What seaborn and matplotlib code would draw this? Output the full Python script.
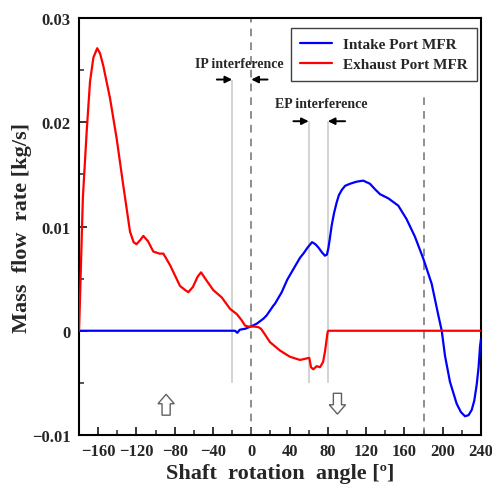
# Mass flow rate through intake / exhaust ports vs shaft angle
import matplotlib.pyplot as plt
import numpy as np
import seaborn as sns
import pandas as pd

# Intake port mass flow rate (blue)
intake_angle = [-180, -20, -17, -14.6, -12, -6, 0.4, 5.6, 12.6, 16, 23, 24.8, 31.8,
                37.6, 43.9, 50.9, 54.4, 59, 63.5, 67, 70, 74, 77, 79, 80.5, 82,
                84, 86.5, 89.2, 91.5, 94.5, 98, 103.1, 110, 117, 124, 129, 134.5,
                143.2, 153.6, 162.3, 171.1, 179.8, 188.5, 195.4, 199, 202.4, 207.6,
                214.6, 219, 223.3, 227, 230.3, 233, 235.5, 237.5, 239, 240]
intake_mfr = [0, 0, 0, -0.0002, 0.0001, 0.0002, 0.00045, 0.00067, 0.00115, 0.00147, 0.0024,
              0.0026, 0.0037, 0.0049, 0.0059, 0.0070, 0.0074, 0.0080, 0.0085, 0.0083,
              0.0080, 0.0075, 0.0072, 0.0073, 0.0079, 0.0088, 0.0101, 0.0113, 0.0123,
              0.0130, 0.0135, 0.0139, 0.0141, 0.0143, 0.0144, 0.0141, 0.0136, 0.0131,
              0.0127, 0.0120, 0.0107, 0.0090, 0.0069, 0.0045, 0.0015, 0.0, -0.0024, -0.0049,
              -0.0070, -0.0078, -0.0082, -0.0081, -0.0076, -0.0067, -0.0052, -0.0035,
              -0.0015, -0.0008]

# Exhaust port mass flow rate (red)
exhaust_angle = [-180, -179, -176, -172, -168.5, -165, -161, -158, -154.6, -147.6, -140.6,
                 -133.7, -126.7, -123, -120, -116, -112.8, -108, -102.4, -96, -91.9,
                 -84.9, -74.5, -69, -65.8, -61, -56, -52.5, -46.6, -39.7, -30.9, -22.2,
                 -15.2, -10, -6.6, -3, 3, 7.3, 10, 12.6, 19.6, 30, 40.5, 50.9, 60.6,
                 62.4, 64.8, 68.3, 71.8, 75, 77, 79.8, 80.5, 240]
exhaust_mfr = [0, 0.003, 0.0127, 0.0191, 0.0239, 0.0262, 0.0271, 0.0266, 0.0254, 0.0223, 0.0184,
               0.0139, 0.0095, 0.0085, 0.0083, 0.0087, 0.0091, 0.0086, 0.0076, 0.0074,
               0.0074, 0.0063, 0.0043, 0.0039, 0.0037, 0.0042, 0.0052, 0.0056, 0.0048,
               0.0039, 0.0032, 0.0021, 0.0016, 0.0010, 0.0005, 0.0004, 0.0004, 0.00035,
               0.0002, -0.00013, -0.0011, -0.0019, -0.0025, -0.0028, -0.0026, -0.0035,
               -0.0037, -0.0034, -0.0035, -0.0030, -0.0020, -0.0001, 0, 0]

x_ticks = [-160, -120, -80, -40, 0, 40, 80, 120, 160, 200, 240]
y_ticks = [-0.01, 0, 0.01, 0.02, 0.03]
y_tick_labels = ['\u22120.01', '0', '0.01', '0.02', '0.03']

df = pd.concat([
    pd.DataFrame({'angle': intake_angle, 'mfr': intake_mfr, 'port': 'Intake Port MFR'}),
    pd.DataFrame({'angle': exhaust_angle, 'mfr': exhaust_mfr, 'port': 'Exhaust Port MFR'}),
])

sns.set_style('ticks')
plt.rcParams['font.family'] = ['Liberation Serif', 'DejaVu Serif']
plt.rcParams['font.weight'] = 'bold'

fig = plt.figure(figsize=(4.92, 4.89), dpi=100)
ax = fig.add_axes([0.1606, 0.1084, 0.817, 0.8527])

# reference lines
ax.axvline(0, color='#707070', lw=1.1, ls=(0, (5, 4)), zorder=1)
ax.vlines(180, -0.01, 0.0228, color='#707070', lw=1.1, ls=(0, (5, 4)), zorder=1)
ax.vlines(-20, -0.005, 0.0241, color='#c8c8c8', lw=1.1, zorder=1)
ax.vlines([60, 80], -0.005, 0.0201, color='#c8c8c8', lw=1.1, zorder=1)

sns.lineplot(data=df, x='angle', y='mfr', hue='port', sort=False, estimator=None,
             palette={'Intake Port MFR': 'blue', 'Exhaust Port MFR': 'red'},
             lw=1.6, ax=ax, zorder=3)

# interference annotations
arrow = dict(arrowstyle='-|>', color='black', lw=1.4, mutation_scale=10, shrinkA=0, shrinkB=0)
ax.annotate('', xy=(-20, 0.0241), xytext=(-36, 0.0241), arrowprops=arrow)
ax.annotate('', xy=(0, 0.0241), xytext=(17, 0.0241), arrowprops=arrow)
ax.annotate('', xy=(60, 0.0201), xytext=(44, 0.0201), arrowprops=arrow)
ax.annotate('', xy=(80, 0.0201), xytext=(98, 0.0201), arrowprops=arrow)
ax.text(-12, 0.0256, 'IP interference', ha='center', va='center', fontsize=10, fontweight='bold')
ax.text(73, 0.0218, 'EP interference', ha='center', va='center', fontsize=10, fontweight='bold')

# hollow block arrows
ax.arrow(-89, -0.0081, 0, 0.0011, width=8.5, head_width=17, head_length=0.0009,
         fc='white', ec='#606060', lw=1, length_includes_head=False, zorder=4)
ax.arrow(90, -0.0060, 0, -0.0011, width=8.5, head_width=17, head_length=0.0009,
         fc='white', ec='#606060', lw=1, length_includes_head=False, zorder=4)

ax.set_xlim(-180, 240)
ax.set_ylim(-0.01, 0.03)
ax.set_xticks(x_ticks)
ax.set_xticklabels([str(t).replace('-', '\u2212') for t in x_ticks])
ax.set_xticks(np.arange(-180, 241, 20), minor=True)
ax.set_yticks(y_ticks)
ax.set_yticklabels(y_tick_labels)
ax.set_yticks(np.arange(-0.01, 0.0301, 0.005), minor=True)
ax.tick_params(which='both', direction='in', top=False, right=False, labelsize=12, pad=6)
ax.tick_params(which='major', length=6, width=1.3)
ax.tick_params(which='minor', length=3.5, width=1.1)
for lab in ax.get_xticklabels() + ax.get_yticklabels():
    lab.set_fontweight('bold')
for s in ax.spines.values():
    s.set_linewidth(1.5)
    s.set_color('black')

ax.set_xlabel('Shaft  rotation  angle [\u00ba]', fontsize=16, fontweight='bold', labelpad=3)
ax.set_ylabel('Mass  flow  rate [kg/s]', fontsize=16, fontweight='bold', labelpad=0)

leg = ax.legend(loc='upper right', bbox_to_anchor=(0.99, 0.976), borderaxespad=0,
                fontsize=11, frameon=True, fancybox=False, edgecolor='#404040',
                framealpha=1, handlelength=2.1, handletextpad=0.7, borderpad=0.6,
                labelspacing=0.45)
leg.get_frame().set_linewidth(1.0)
for t in leg.get_texts():
    t.set_fontweight('bold')

plt.savefig('out.png', dpi=100)
